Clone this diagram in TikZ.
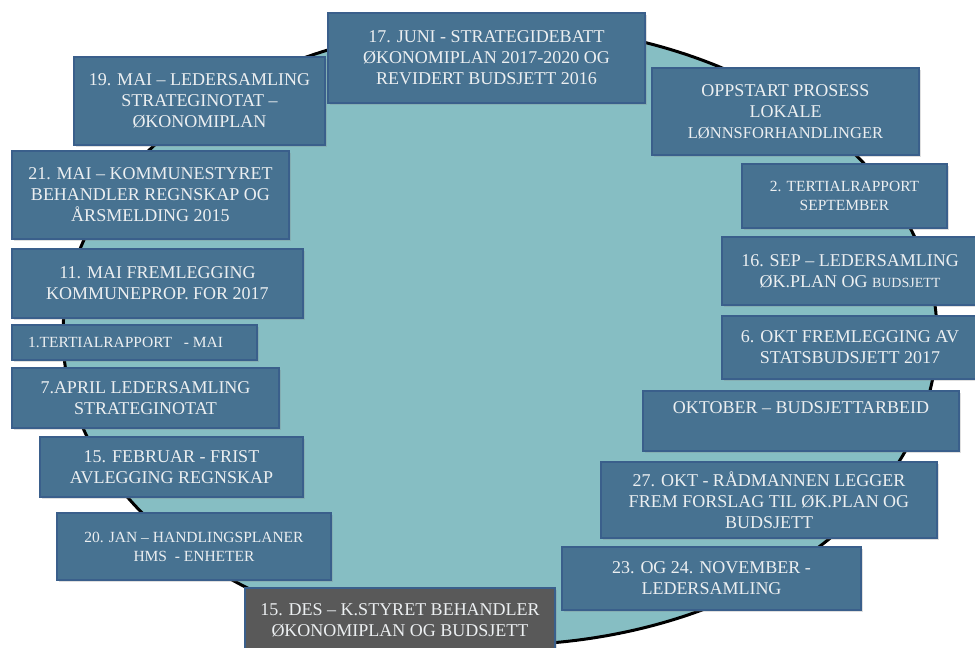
\documentclass[tikz,border=0pt]{standalone}
\usepackage{fontspec}
\setmainfont{Liberation Serif}
\usetikzlibrary{shadows}
\definecolor{wheelfill}{HTML}{86BEC3}
\definecolor{boxfill}{HTML}{477291}
\definecolor{boxline}{HTML}{3A5F8B}
\definecolor{boxtext}{HTML}{ECEFF1}
\definecolor{darkfill}{HTML}{595959}
\tikzset{%
  % Specifications for style of nodes:
  base/.style = {draw=boxline, line width=2pt, align=center, inner sep=2pt,
                 text=boxtext, drop shadow={opacity=0.25, shadow xshift=1.5pt, shadow yshift=-1.5pt}},
  event/.style = {base, fill=boxfill, font=\fontsize{18}{21}\selectfont},
  eventsmall/.style = {event, font=\fontsize{15.5}{19}\selectfont},
  eventdark/.style = {event, fill=darkfill},
  wheel/.style = {draw=black, line width=3pt, fill=wheelfill},
}

\begin{document}
\begin{tikzpicture}[x=1pt, y=-1pt]
  \useasboundingbox (0,0) rectangle (975,648);
  % the year wheel
  \draw[wheel] (500,335) ellipse [x radius=437pt, y radius=310pt];

  % Events, clockwise from the top
  \node (juni17) [event, minimum width=317pt, minimum height=90pt] at (486.5,58)
    {17. JUNI - STRATEGIDEBATT\\ØKONOMIPLAN 2017-2020 OG\\REVIDERT BUDSJETT 2016};
  \node (oppstart) [event, minimum width=267pt, minimum height=87pt] at (785.5,111.5)
    {OPPSTART PROSESS\\LOKALE\\{\fontsize{16.5}{20}\selectfont LØNNSFORHANDLINGER}};
  \node (tert2) [eventsmall, minimum width=205pt, minimum height=64pt] at (844.5,196)
    {2. TERTIALRAPPORT\\SEPTEMBER};
  \node (sep16) [event, minimum width=256pt, minimum height=68pt] at (850,271)
    {16. SEP – LEDERSAMLING\\ØK.PLAN OG {\fontsize{14}{21}\selectfont BUDSJETT}};
  \node (okt6) [event, minimum width=256pt, minimum height=63pt] at (850,347.5)
    {6. OKT FREMLEGGING AV\\STATSBUDSJETT 2017};
  \node (oktober) [event, minimum width=316pt, minimum height=60pt] at (801,421)
    {OKTOBER – BUDSJETTARBEID\\\strut};
  \node (okt27) [event, minimum width=336pt, minimum height=76pt] at (769,500)
    {27. OKT - RÅDMANNEN LEGGER\\FREM FORSLAG TIL ØK.PLAN OG\\BUDSJETT};
  \node (nov23) [event, minimum width=299pt, minimum height=63pt] at (711.5,578.5)
    {23. OG 24. NOVEMBER -\\LEDERSAMLING};
  \node (des15) [eventdark, minimum width=310pt, minimum height=64pt] at (400,620)
    {15. DES – K.STYRET BEHANDLER\\ØKONOMIPLAN OG BUDSJETT};
  \node (jan20) [eventsmall, minimum width=274pt, minimum height=67pt] at (194,546.5)
    {20. JAN – HANDLINGSPLANER\\HMS\ \ - ENHETER};
  \node (feb15) [event, minimum width=263pt, minimum height=60pt] at (171.5,467)
    {15. FEBRUAR - FRIST\\AVLEGGING REGNSKAP};
  \node (april7) [event, minimum width=267pt, minimum height=60pt] at (145.5,398)
    {7.APRIL LEDERSAMLING\\STRATEGINOTAT};
  \node (tert1) [eventsmall, minimum width=245pt, minimum height=35pt] at (134.5,342.5)
    {1.TERTIALRAPPORT\ \ \ - MAI\hspace{18pt}};
  \node (mai11) [event, minimum width=291pt, minimum height=69pt] at (157.5,283.5)
    {11. MAI FREMLEGGING\\KOMMUNEPROP. FOR 2017};
  \node (mai21) [event, minimum width=277pt, minimum height=88pt] at (150.5,195)
    {21. MAI – KOMMUNESTYRET\\BEHANDLER REGNSKAP OG\\ÅRSMELDING 2015};
  \node (mai19) [event, minimum width=251pt, minimum height=88pt] at (199.5,101)
    {19. MAI – LEDERSAMLING\\STRATEGINOTAT –\\ØKONOMIPLAN};
\end{tikzpicture}
\end{document}
